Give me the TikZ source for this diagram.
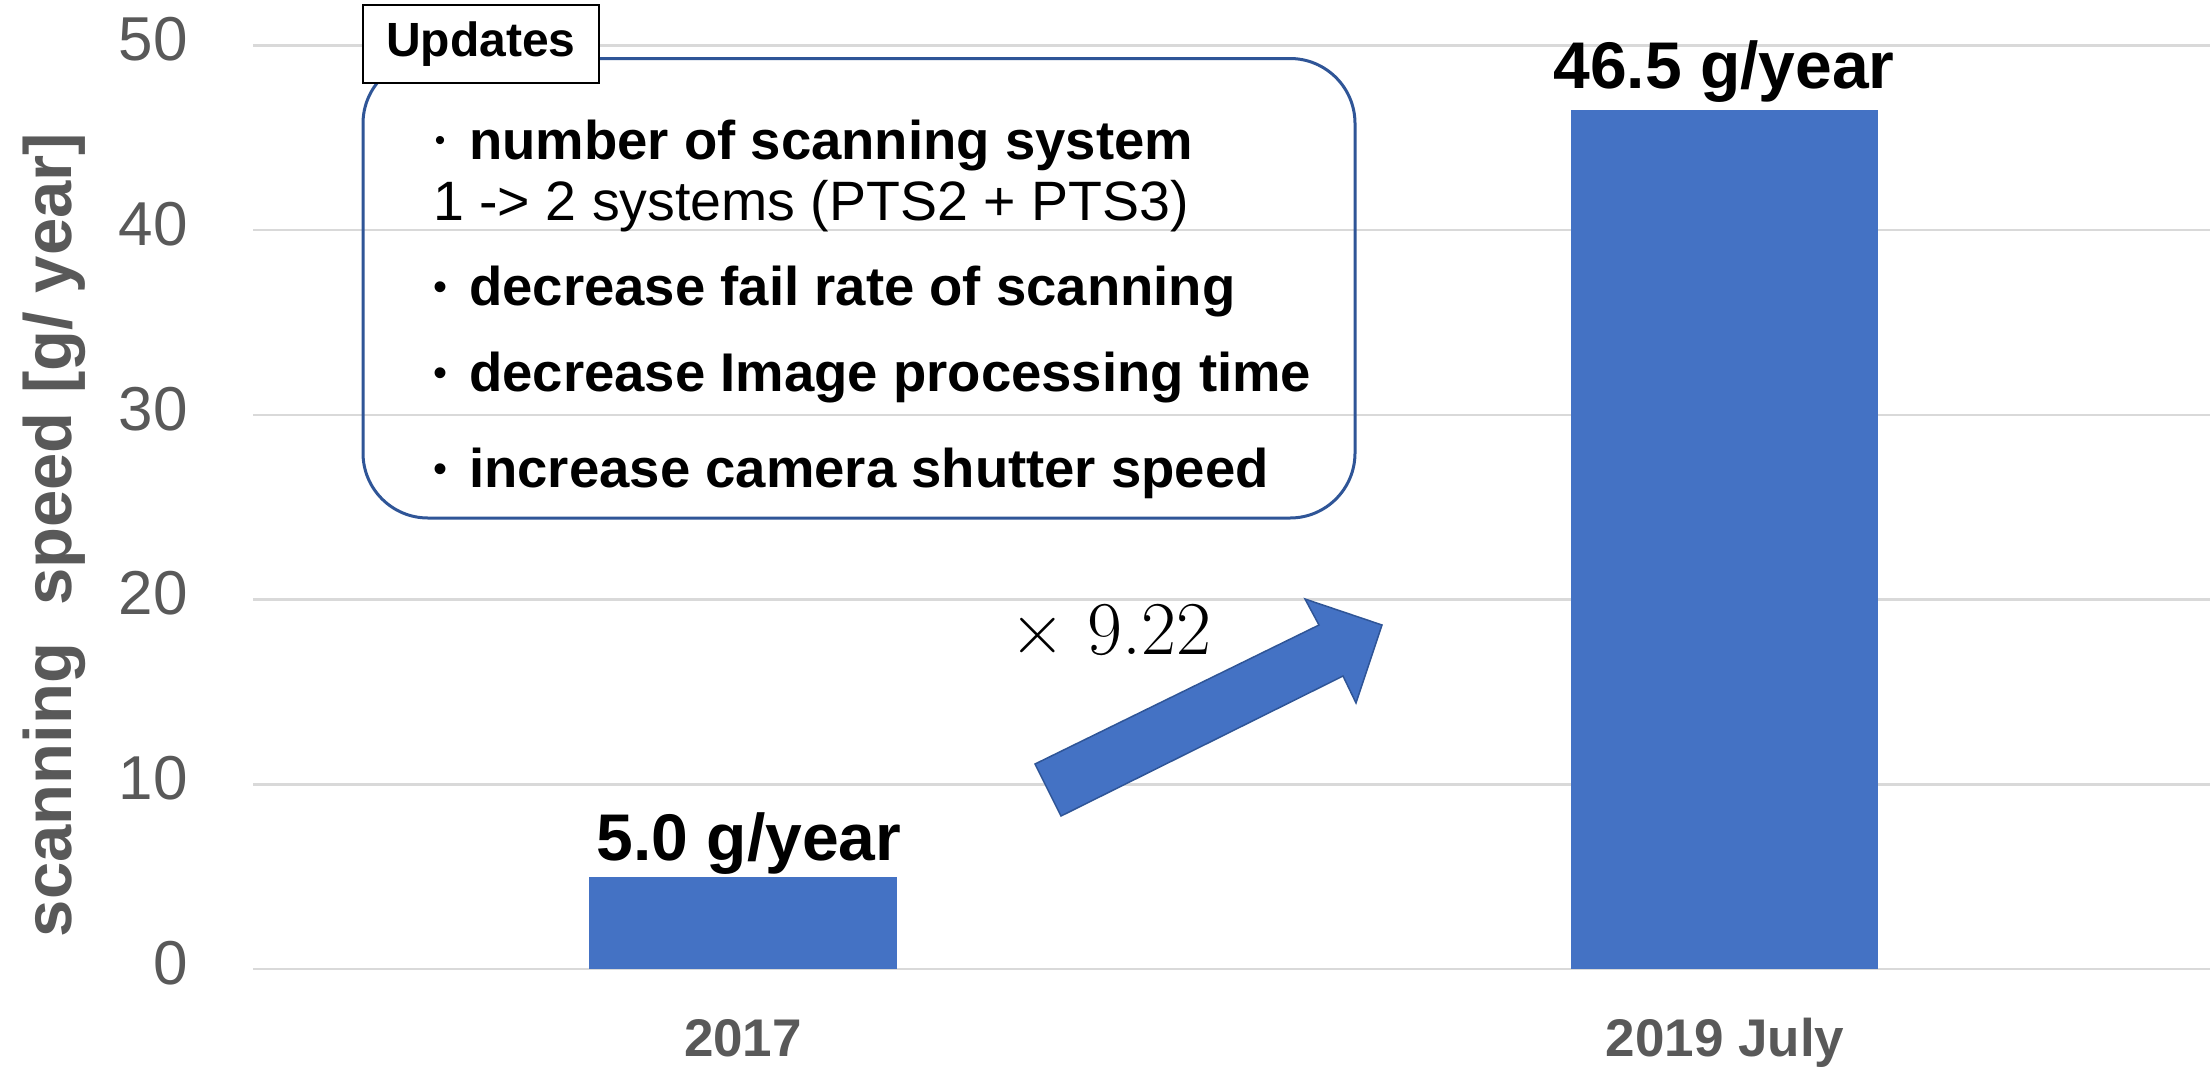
\documentclass[tikz,border=0pt]{standalone}
\usepackage{fontspec}
\setmainfont{Liberation Sans}
\newfontfamily\lmr{Latin Modern Roman}
\definecolor{barblue}{HTML}{4472C4}
\definecolor{edgeblue}{HTML}{2F5597}
\definecolor{gridgray}{HTML}{D9D9D9}
\definecolor{txtgray}{HTML}{595959}
\newcommand\fs[1]{\fontsize{#1pt}{#1pt}\selectfont}
\begin{document}
\begin{tikzpicture}[x=1pt,y=-1pt,
  gridline/.style={draw=gridgray,line width=2.5pt},
  barbox/.style={fill=barblue,draw=none},
  ticklab/.style={anchor=east,inner sep=0pt,text=txtgray,font=\fs{62}},
  catlab/.style={anchor=base,inner sep=0pt,text=txtgray,font=\fs{53}\bfseries},
  vallab/.style={anchor=base,inner sep=0pt,font=\fs{66}\bfseries},
  itemtext/.style={anchor=base west,inner sep=0pt,font=\fs{54.5}\bfseries},
  bulletmark/.style={anchor=base,inner sep=0pt,font=\fs{40}},
  updbox/.style={draw=edgeblue,line width=3pt,rounded corners=65pt},
  tagbox/.style={draw=black,line width=2pt,fill=white,inner sep=0pt},
  arrowshape/.style={fill=barblue,draw=edgeblue,line width=1.5pt,line join=miter}
]
\useasboundingbox[fill=white] (0,0) rectangle (2210,1066);

% grid lines
\foreach \v/\yy in {0/969,10/784.3,20/599.6,30/414.9,40/230.2,50/45.5}{
  \draw[gridline] (253,\yy) -- (2210,\yy);
  \node[ticklab] (t\v) at (188,\yy-6) {\v};
}

% y axis title
\node[rotate=90,inner sep=0pt,text=txtgray,font=\fs{67}\bfseries] (ytitle) at (54,535) {scanning\ \ speed [g/ year]};

% bars
\fill[barbox] (589,876.6) rectangle (897,969);
\fill[barbox] (1571,110) rectangle (1878,969);
\node[vallab] (v1) at (749,860) {5.0 g/year};
\node[vallab] (v2) at (1724,88) {46.5 g/year};
\node[catlab] (c1) at (743,1056) {2017};
\node[catlab] (c2) at (1725,1056) {2019 July};

% updates box
\draw[updbox] (363,58.5) rectangle (1355,518);
\node[tagbox,minimum width=236pt,minimum height=78pt] (tag) at (481,44) {\fs{48}\bfseries Updates};

\node[bulletmark,font=\fs{30}] (b1) at (440,150) {•};
\node[itemtext] (i1) at (469,159) {number of scanning system};
\node[itemtext,font=\fs{55.5}] (i2) at (433,220) {1 -> 2 systems (PTS2 + PTS3)};
\node[bulletmark] (b3) at (440,300) {•};
\node[itemtext] (i3) at (469,305) {decrease fail rate of scanning};
\node[bulletmark] (b4) at (440,386) {•};
\node[itemtext] (i4) at (469,391) {decrease Image processing time};
\node[bulletmark] (b5) at (440,482) {•};
\node[itemtext] (i5) at (469,487) {increase camera shutter speed};

% arrow
\filldraw[arrowshape] (1061,816) -- (1035,764) -- (1319,625) -- (1305,599) -- (1382,625) -- (1356,703) -- (1343,676) -- cycle;
\node[anchor=base west,inner sep=0pt,font=\fs{76}\lmr] (factor) at (1010,654) {× 9.22};
\end{tikzpicture}
\end{document}
